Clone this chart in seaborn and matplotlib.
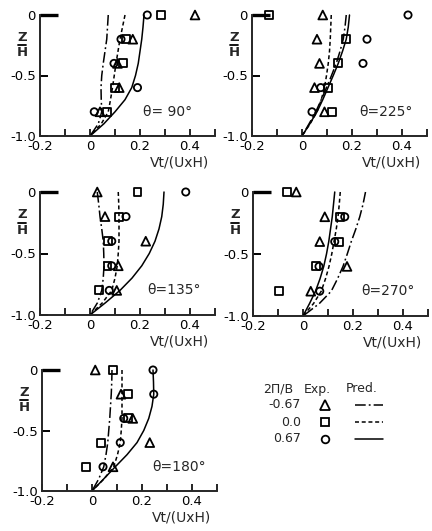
import numpy as np
import pandas as pd
import matplotlib
matplotlib.use("Agg")
import matplotlib.pyplot as plt
import seaborn as sns

# ---- measured points (Exp.) and predicted profiles (Pred.) ----
Z_EXP = [0.0, -0.2, -0.4, -0.6, -0.8]
Z_PRED = [0.0, -0.1, -0.2, -0.3, -0.4, -0.5, -0.6, -0.7, -0.8, -0.9, -1.0]
RATIOS = ["-0.67", "0.0", "0.67"]

ANGLES = [90, 225, 135, 270, 180]

# theta = 90
EXP_90_TRI = [0.42, 0.171, 0.11, 0.117, 0.04]
EXP_90_SQ = [0.283, 0.144, 0.133, 0.100, 0.067]
EXP_90_CIR = [0.229, 0.124, 0.096, 0.190, 0.017]
PRED_90_DASHDOT = [0.073, 0.070, 0.067, 0.060, 0.053, 0.047, 0.044, 0.045, 0.047, 0.033, 0.0]
PRED_90_DASHED = [0.140, 0.130, 0.120, 0.112, 0.104, 0.097, 0.090, 0.082, 0.073, 0.045, 0.0]
PRED_90_SOLID = [0.216, 0.212, 0.207, 0.200, 0.193, 0.182, 0.167, 0.140, 0.100, 0.055, 0.0]

# theta = 225
EXP_225_TRI = [0.083, 0.060, 0.070, 0.050, 0.090]
EXP_225_SQ = [-0.133, 0.177, 0.144, 0.104, 0.120]
EXP_225_CIR = [0.424, 0.260, 0.244, 0.075, 0.040]
PRED_225_DASHDOT = [0.177, 0.172, 0.165, 0.152, 0.137, 0.118, 0.098, 0.077, 0.055, 0.028, 0.0]
PRED_225_DASHED = [0.117, 0.115, 0.113, 0.110, 0.105, 0.098, 0.090, 0.077, 0.060, 0.032, 0.0]
PRED_225_SOLID = [0.190, 0.185, 0.177, 0.162, 0.145, 0.125, 0.104, 0.083, 0.060, 0.031, 0.0]

# theta = 135
EXP_135_TRI = [0.029, 0.060, 0.223, 0.113, 0.107]
EXP_135_SQ = [0.190, 0.117, 0.073, 0.070, 0.037]
EXP_135_CIR = [0.383, 0.144, 0.087, 0.087, 0.077]
PRED_135_DASHDOT = [0.029, 0.035, 0.040, 0.047, 0.053, 0.055, 0.056, 0.053, 0.047, 0.030, 0.0]
PRED_135_DASHED = [0.113, 0.115, 0.116, 0.116, 0.116, 0.113, 0.109, 0.100, 0.087, 0.050, 0.0]
PRED_135_SOLID = [0.296, 0.293, 0.287, 0.276, 0.260, 0.237, 0.207, 0.168, 0.120, 0.062, 0.0]

# theta = 270
EXP_270_TRI = [-0.027, 0.087, 0.067, 0.176, 0.031]
EXP_270_SQ = [-0.063, 0.147, 0.144, 0.053, -0.096]
EXP_270_CIR = [np.nan, 0.167, 0.127, 0.064, 0.067]
PRED_270_DASHDOT = [0.250, 0.240, 0.227, 0.211, 0.193, 0.177, 0.160, 0.138, 0.113, 0.065, 0.0]
PRED_270_DASHED = [0.149, 0.145, 0.140, 0.133, 0.124, 0.115, 0.104, 0.090, 0.073, 0.042, 0.0]
PRED_270_SOLID = [0.127, 0.122, 0.117, 0.110, 0.103, 0.094, 0.083, 0.068, 0.050, 0.026, 0.0]

# theta = 180
EXP_180_TRI = [0.013, 0.116, 0.163, 0.231, 0.084]
EXP_180_SQ = [0.084, 0.144, 0.144, 0.037, -0.025]
EXP_180_CIR = [0.244, 0.247, 0.127, 0.113, 0.044]
PRED_180_DASHDOT = [0.080, 0.079, 0.077, 0.074, 0.071, 0.067, 0.063, 0.056, 0.047, 0.027, 0.0]
PRED_180_DASHED = [0.120, 0.120, 0.120, 0.120, 0.120, 0.117, 0.113, 0.102, 0.087, 0.048, 0.0]
PRED_180_SOLID = [0.244, 0.246, 0.247, 0.240, 0.227, 0.207, 0.180, 0.140, 0.093, 0.047, 0.0]

X_TICKS = [-0.2, -0.1, 0.0, 0.1, 0.2, 0.3, 0.4, 0.5]
X_TICK_LABELS = ["-0.2", "", "0", "", "0.2", "", "0.4", ""]
Y_TICKS = [0.0, -0.5, -1.0]
Y_TICK_LABELS = ["0", "-0.5", "-1.0"]
X_LABEL = "Vt/(UxH)"

exp_sets = {
    90: (EXP_90_TRI, EXP_90_SQ, EXP_90_CIR),
    225: (EXP_225_TRI, EXP_225_SQ, EXP_225_CIR),
    135: (EXP_135_TRI, EXP_135_SQ, EXP_135_CIR),
    270: (EXP_270_TRI, EXP_270_SQ, EXP_270_CIR),
    180: (EXP_180_TRI, EXP_180_SQ, EXP_180_CIR),
}
pred_sets = {
    90: (PRED_90_DASHDOT, PRED_90_DASHED, PRED_90_SOLID),
    225: (PRED_225_DASHDOT, PRED_225_DASHED, PRED_225_SOLID),
    135: (PRED_135_DASHDOT, PRED_135_DASHED, PRED_135_SOLID),
    270: (PRED_270_DASHDOT, PRED_270_DASHED, PRED_270_SOLID),
    180: (PRED_180_DASHDOT, PRED_180_DASHED, PRED_180_SOLID),
}

exp_rows, pred_rows = [], []
for ang in ANGLES:
    for r, vals in zip(RATIOS, exp_sets[ang]):
        for z, v in zip(Z_EXP, vals):
            exp_rows.append(dict(theta=ang, ratio=r, z=z, vt=v))
    for r, vals in zip(RATIOS, pred_sets[ang]):
        for z, v in zip(Z_PRED, vals):
            pred_rows.append(dict(theta=ang, ratio=r, z=z, vt=v))
exp_df = pd.DataFrame(exp_rows).dropna()
pred_df = pd.DataFrame(pred_rows)

MARKERS = {"-0.67": "^", "0.0": "s", "0.67": "o"}
MSIZE = {"-0.67": 40, "0.0": 32, "0.67": 27}
LSTYLE = {"-0.67": (0, (7, 2, 1.2, 2)), "0.0": (0, (2.6, 1.8)), "0.67": "-"}

sns.set_theme(style="white")
plt.rcParams["font.family"] = ["DejaVu Sans"]
plt.rcParams["axes.linewidth"] = 1.4

W, H = 432, 531
fig = plt.figure(figsize=(W / 100, H / 100), dpi=100)

# axes frames in pixels: left, y of Z/H=0, y of Z/H=-1
frames = {
    90: (40, 15, 136),
    225: (252, 15, 136),
    135: (40, 192, 315),
    270: (253, 192, 316),
    180: (42, 370, 491),
}
AX_W = 175
ANGLE_TXT_X = {90: 0.21, 225: 0.23, 135: 0.23, 270: 0.235, 180: 0.24}
ANGLE_TXT = {90: "θ= 90°", 225: "θ=225°", 135: "θ=135°", 270: "θ=270°", 180: "θ=180°"}

for ang in ANGLES:
    left, ytop, ybot = frames[ang]
    ax = fig.add_axes([left / W, (H - ybot) / H, AX_W / W, (ybot - ytop) / H])
    sub_p = pred_df[pred_df.theta == ang]
    sub_e = exp_df[exp_df.theta == ang]
    for r in RATIOS:
        sns.lineplot(data=sub_p[sub_p.ratio == r], x="vt", y="z", sort=False,
                     estimator=None, color="black", lw=1.1,
                     linestyle=LSTYLE[r], ax=ax, clip_on=False)
    for r in RATIOS:
        d = sub_e[sub_e.ratio == r]
        sns.scatterplot(data=d, x="vt", y="z", marker=MARKERS[r], s=MSIZE[r],
                        color="black", linewidth=1.3, ax=ax, clip_on=False,
                        zorder=3)
    for coll in ax.collections:
        coll.set_facecolor("none")
        coll.set_edgecolor("black")

    ax.set_xlim(-0.2, 0.5)
    ax.set_ylim(-1.0, 0.0)
    ax.set_xticks(X_TICKS)
    ax.set_xticklabels(X_TICK_LABELS)
    ax.set_yticks(Y_TICKS)
    ax.set_yticklabels(Y_TICK_LABELS)
    ax.set_xlabel("")
    ax.set_ylabel("")
    for s in ["top", "right"]:
        ax.spines[s].set_visible(False)
    ax.tick_params(axis="x", bottom=True, direction="in", length=5, width=1.2,
                   labelsize=9.5, pad=3, colors="black")
    ax.tick_params(axis="y", left=True, direction="in", length=6, width=1.4,
                   labelsize=9.5, pad=3, colors="black")
    t0 = ax.yaxis.get_major_ticks()[0]
    t0.tick1line.set_markersize(13)
    t0.tick1line.set_markeredgewidth(2.4)

    ax.text(ANGLE_TXT_X[ang], -0.8, ANGLE_TXT[ang], fontsize=10,
            va="center", ha="left")
    ax.text(0.80, -0.215, X_LABEL, transform=ax.transAxes, fontsize=10,
            ha="center", va="center")
    # Z/H stacked label
    ax.text(-0.103, 0.815, "Z", transform=ax.transAxes, fontsize=9.5,
            ha="center", va="center", fontweight="bold")
    ax.text(-0.103, 0.69, "H", transform=ax.transAxes, fontsize=9.5,
            ha="center", va="center", fontweight="bold")
    ax.plot([-0.128, -0.078], [0.752, 0.752], transform=ax.transAxes,
            color="black", lw=1.3, clip_on=False)

# key table for the three spacing ratios
lg = fig.add_axes([0, 0, 1, 1], facecolor="none")
lg.set_xlim(0, W)
lg.set_ylim(H, 0)
lg.axis("off")
HEAD_Y = 389
ROW_Y = [405, 422, 439]
lg.text(278, HEAD_Y, "2Π/B", fontsize=9, ha="center", va="center")
lg.text(317, HEAD_Y, "Exp.", fontsize=9, ha="center", va="center")
lg.text(362, HEAD_Y, "Pred.", fontsize=9, ha="center", va="center")
LEG_MS = {"-0.67": 6.5, "0.0": 6, "0.67": 5.5}
for r, y in zip(RATIOS, ROW_Y):
    lg.text(301, y, r, fontsize=9, ha="right", va="center")
    lg.plot([325], [y], marker=MARKERS[r], ms=LEG_MS[r], mfc="none",
            mec="black", mew=1.3, ls="none")
    lg.plot([355, 383], [y, y], color="black", lw=1.1, linestyle=LSTYLE[r])

fig.savefig("out.png", dpi=100, facecolor="white")
